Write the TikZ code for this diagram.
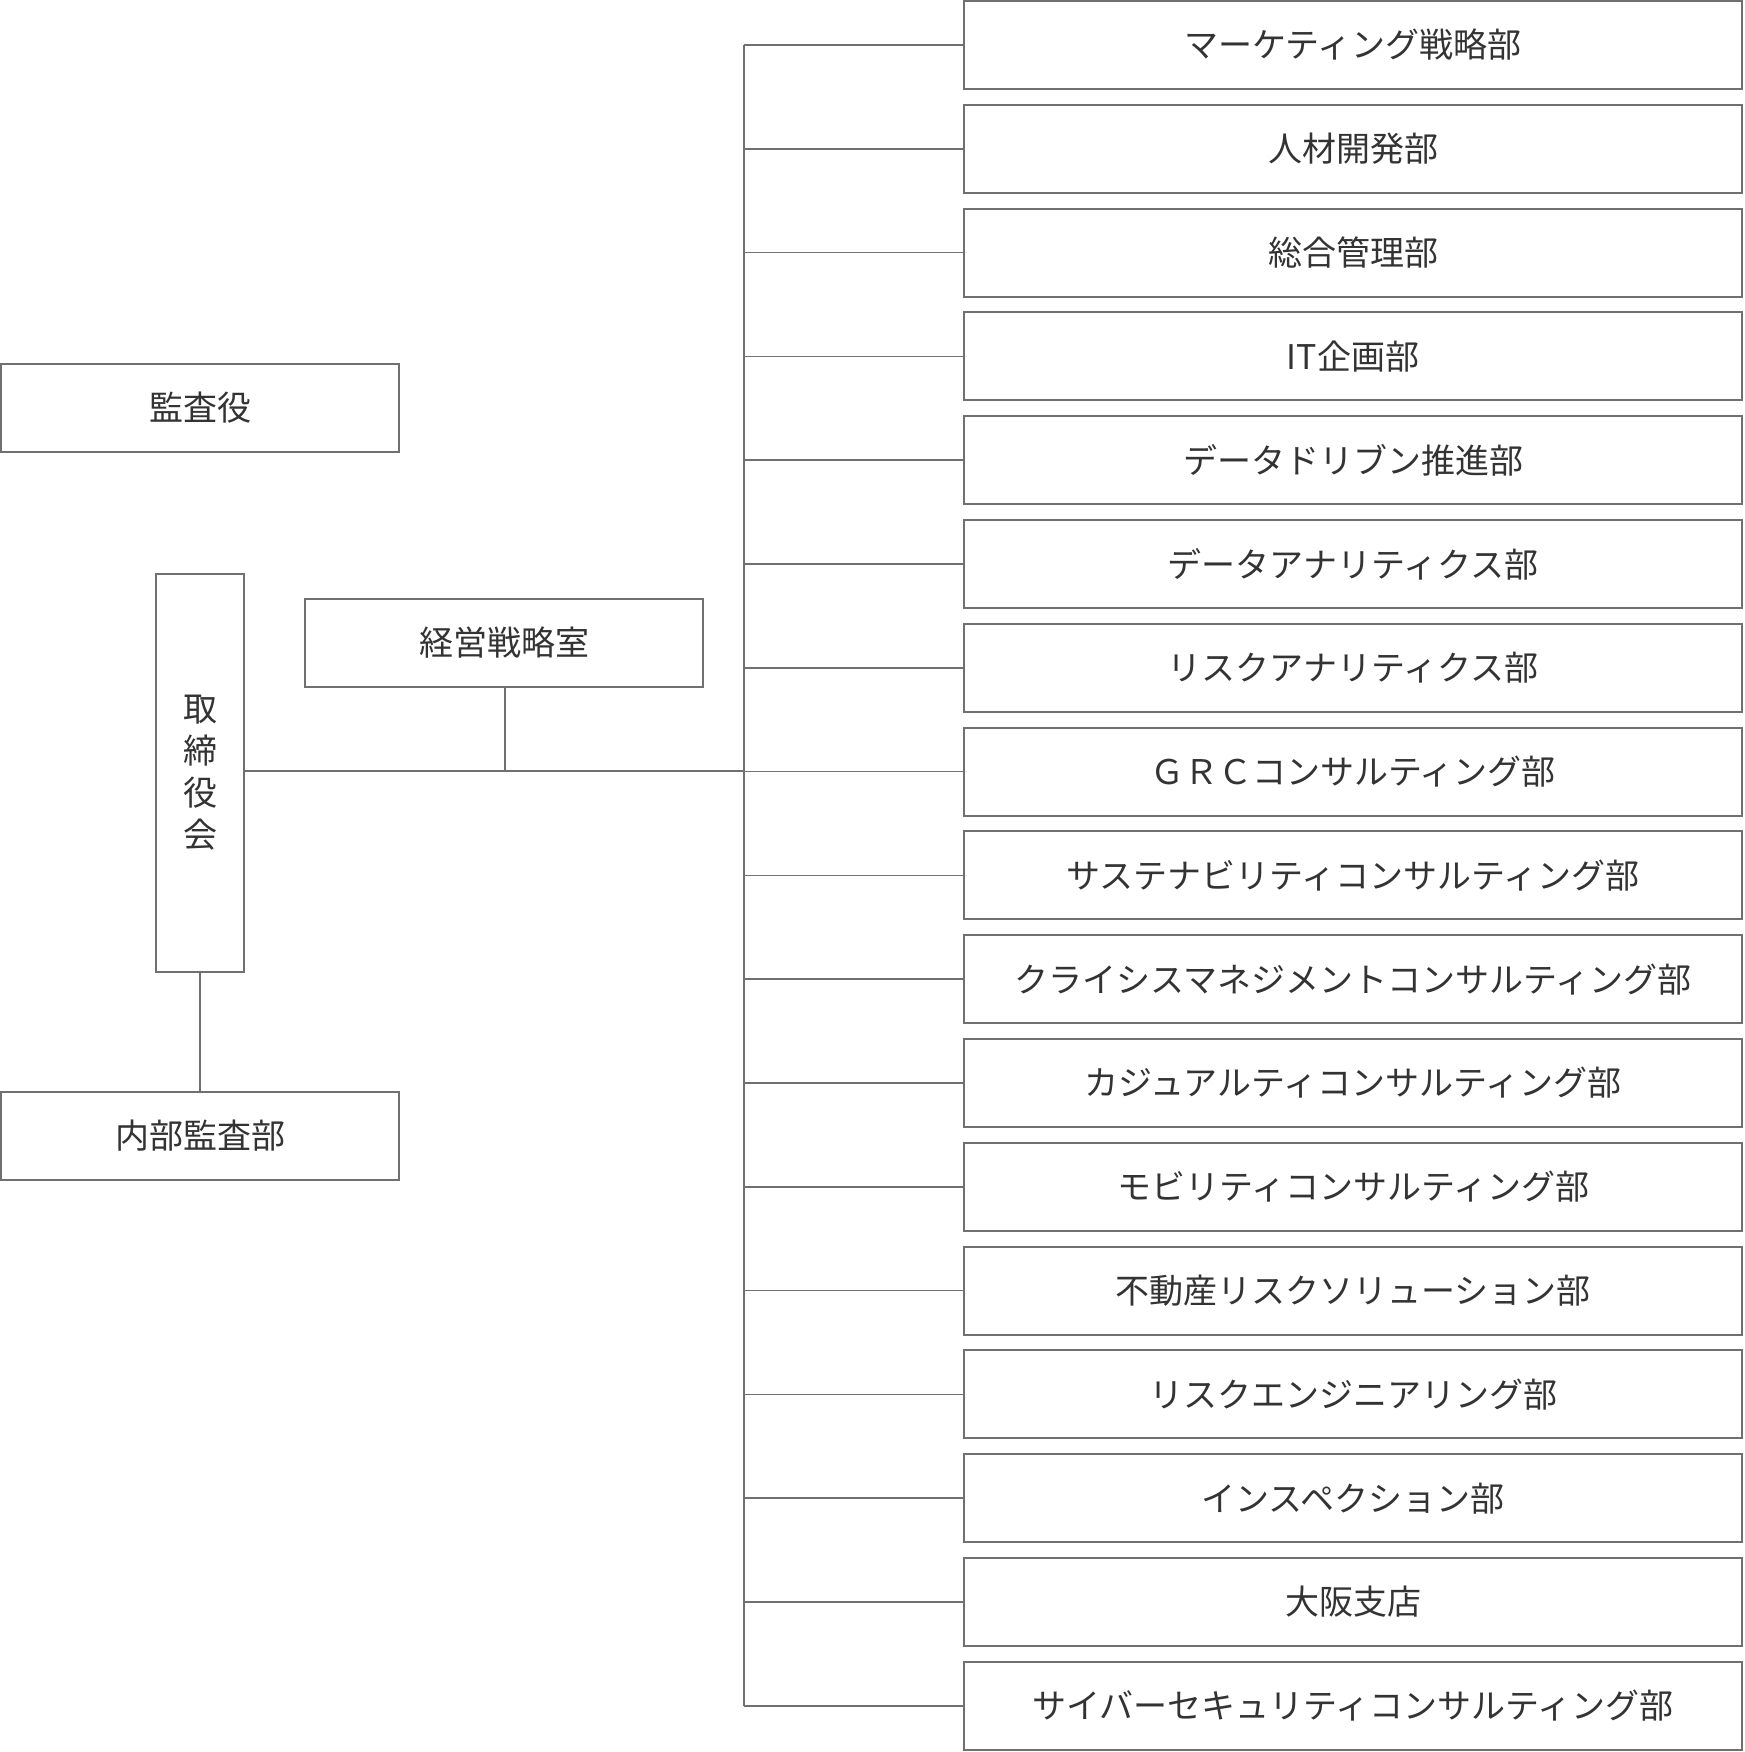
\documentclass[tikz,border=0pt]{standalone}
\usepackage{fontspec}
\setmainfont{Noto Sans CJK JP}
\usetikzlibrary{positioning}
\definecolor{linegray}{HTML}{707070}
\definecolor{textgray}{HTML}{333333}
\begin{document}
\begin{tikzpicture}[x=1pt,y=-1pt,
    unit/.style={rectangle, draw=linegray, line width=2pt, text=textgray, inner sep=0pt, font=\fontsize{34}{42}\selectfont},
    dept/.style={unit, minimum width=778pt, minimum height=88pt},
    conn/.style={draw=linegray, line width=1.6pt}
]
\useasboundingbox (0,0) rectangle (1744,1752);

% left side
\node[unit, minimum width=398pt, minimum height=88pt] (kansa) at (200,408) {監査役};
\node[unit, minimum width=88pt, minimum height=398pt, align=center] (board) at (200,773) {取\\締\\役\\会};
\node[unit, minimum width=398pt, minimum height=88pt] (keiei) at (504,643) {経営戦略室};
\node[unit, minimum width=398pt, minimum height=88pt] (naibu) at (200,1136) {内部監査部};

% departments
\foreach \i/\name in {1/マーケティング戦略部, 2/人材開発部, 3/総合管理部, 4/IT企画部,
    5/データドリブン推進部, 6/データアナリティクス部, 7/リスクアナリティクス部,
    8/ＧＲＣコンサルティング部, 9/サステナビリティコンサルティング部,
    10/クライシスマネジメントコンサルティング部, 11/カジュアルティコンサルティング部,
    12/モビリティコンサルティング部, 13/不動産リスクソリューション部,
    14/リスクエンジニアリング部, 15/インスペクション部, 16/大阪支店,
    17/サイバーセキュリティコンサルティング部}
{
  \node[dept] (dept\i) at (1353,{45+103.8*(\i-1)}) {\name};
  \coordinate (tap\i) at (744,{45+103.8*(\i-1)});
  \draw[conn] (tap\i) -- (dept\i.west);
}

% connectors
\draw[conn] (tap1) -- (tap17);
\coordinate (mid) at (505,771);
\coordinate (spine) at (744,771);
\draw[conn] (board.east |- spine) -- (spine);
\draw[conn] (keiei.south -| mid) -- (mid);
\draw[conn] (board) -- (naibu);
\end{tikzpicture}
\end{document}
